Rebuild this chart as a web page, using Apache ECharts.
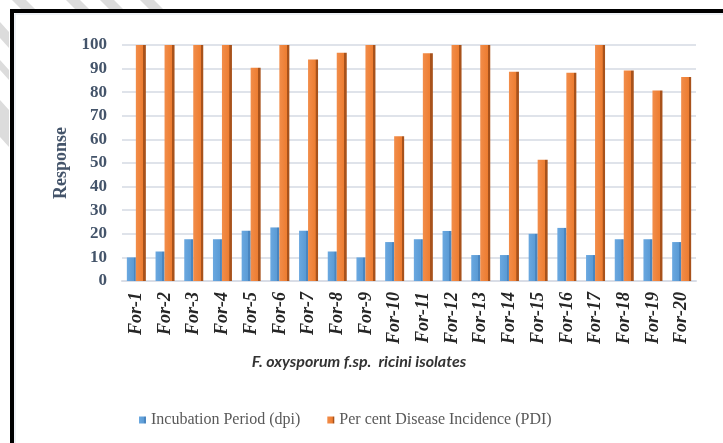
<!DOCTYPE html>
<html>
<head>
<meta charset="utf-8">
<script src="https://cdn.jsdelivr.net/npm/echarts@6/dist/echarts.min.js"></script>
<style>
  html, body { margin: 0; padding: 0; background: #fff; }
  #chart { width: 723px; height: 443px; }
</style>
</head>
<body>
<div id="chart"></div>
<script>
// isolates and the two measured responses
var isolates = ['For-1', 'For-2', 'For-3', 'For-4', 'For-5', 'For-6', 'For-7', 'For-8', 'For-9', 'For-10',
    'For-11', 'For-12', 'For-13', 'For-14', 'For-15', 'For-16', 'For-17', 'For-18', 'For-19', 'For-20'];
var incubationPeriod = [10, 12.5, 17.7, 17.7, 21.3, 22.7, 21.3, 12.5, 10, 16.5,
    17.7, 21.2, 11, 11, 20, 22.5, 11, 17.7, 17.7, 16.5];
var diseaseIncidence = [100, 100, 100, 100, 90.4, 100, 93.9, 96.7, 100, 61.3,
    96.5, 100, 100, 88.7, 51.4, 88.2, 100, 89.2, 80.7, 86.4];
var seriesNames = ['Incubation Period (dpi)', 'Per cent Disease Incidence (PDI)'];

var serif = '"Liberation Serif", "Times New Roman", serif';
var myChart = echarts.init(document.getElementById('chart'));

// fake 3d look: darker strip on the right side of each bar
function sideShade(light, mid, dark) {
    return new echarts.graphic.LinearGradient(0, 0, 1, 0, [
        { offset: 0, color: light },
        { offset: 0.74, color: mid },
        { offset: 0.76, color: dark },
        { offset: 1, color: dark }
    ]);
}

// grey hatch stripes outside the frame (top left corner)
var stripes = [];
[[12, 0], [66, 0], [100, 0], [140, 0]].forEach(function (p) {
    stripes.push({
        type: 'polygon',
        shape: { points: [[p[0], 0], [p[0] + 14, 0], [p[0] + 23, 9], [p[0] + 9, 9]] },
        style: { fill: '#dcdcdc' },
        silent: true
    });
});
[[22, 48], [60, 80], [100, 147]].forEach(function (p) {
    stripes.push({
        type: 'polygon',
        shape: { points: [[0, p[0]], [9, p[0] + 10], [9, p[1]], [0, p[1] - 10]] },
        style: { fill: '#dcdcdc' },
        silent: true
    });
});

var option = {
    backgroundColor: '#fff',
    animation: false,
    graphic: stripes.concat([
        {
            type: 'rect',
            shape: { x: 12, y: 11, width: 760, height: 480 },
            style: { fill: null, stroke: '#000', lineWidth: 4 },
            silent: true
        },
        {
            type: 'rect',
            shape: { x: 15, y: 14, width: 760, height: 480 },
            style: { fill: null, stroke: '#dde3ec', lineWidth: 1 },
            silent: true
        }
    ]),
    legend: {
        data: seriesNames,
        top: 407,
        left: 134,
        icon: 'rect',
        itemWidth: 7,
        itemHeight: 7,
        itemGap: 27,
        textStyle: {
            fontFamily: serif,
            fontSize: 16,
            color: '#595959'
        }
    },
    grid: {
        left: 122,
        right: 27,
        top: 45,
        bottom: 162
    },
    xAxis: {
        type: 'category',
        data: isolates,
        name: 'F. oxysporum f.sp.  ricini isolates',
        nameLocation: 'middle',
        nameGap: 73,
        nameTextStyle: {
            fontFamily: 'Lato',
            fontStyle: 'italic',
            fontWeight: 'bold',
            fontSize: 16,
            color: '#333',
            padding: [0, 100, 0, 0]
        },
        axisTick: { show: false },
        axisLine: { lineStyle: { color: '#d9dde6', width: 2 } },
        axisLabel: {
            rotate: 90,
            interval: 0,
            margin: 11,
            fontFamily: serif,
            fontStyle: 'italic',
            fontWeight: 'bold',
            fontSize: 18,
            color: '#262626'
        }
    },
    yAxis: {
        type: 'value',
        min: 0,
        max: 100,
        interval: 10,
        name: 'Response',
        nameLocation: 'middle',
        nameGap: 44,
        nameTextStyle: {
            fontFamily: serif,
            fontWeight: 'bold',
            fontSize: 18,
            color: '#44546a'
        },
        axisLine: { show: false },
        axisTick: { show: false },
        axisLabel: {
            margin: 15,
            fontFamily: serif,
            fontWeight: 'bold',
            fontSize: 17,
            color: '#44546a'
        },
        splitLine: { lineStyle: { color: '#dfe3ea', width: 2 } }
    },
    series: [
        {
            name: seriesNames[0],
            type: 'bar',
            data: incubationPeriod,
            barWidth: 9,
            barGap: '0%',
            itemStyle: { color: sideShade('#6aa8e0', '#5b9bd5', '#4a86c0') }
        },
        {
            name: seriesNames[1],
            type: 'bar',
            data: diseaseIncidence,
            barWidth: 10,
            itemStyle: { color: sideShade('#f28d4a', '#ed7d31', '#a8521b') }
        }
    ]
};

myChart.setOption(option);
window.addEventListener('resize', function () {
    myChart.resize();
});
</script>
</body>
</html>
